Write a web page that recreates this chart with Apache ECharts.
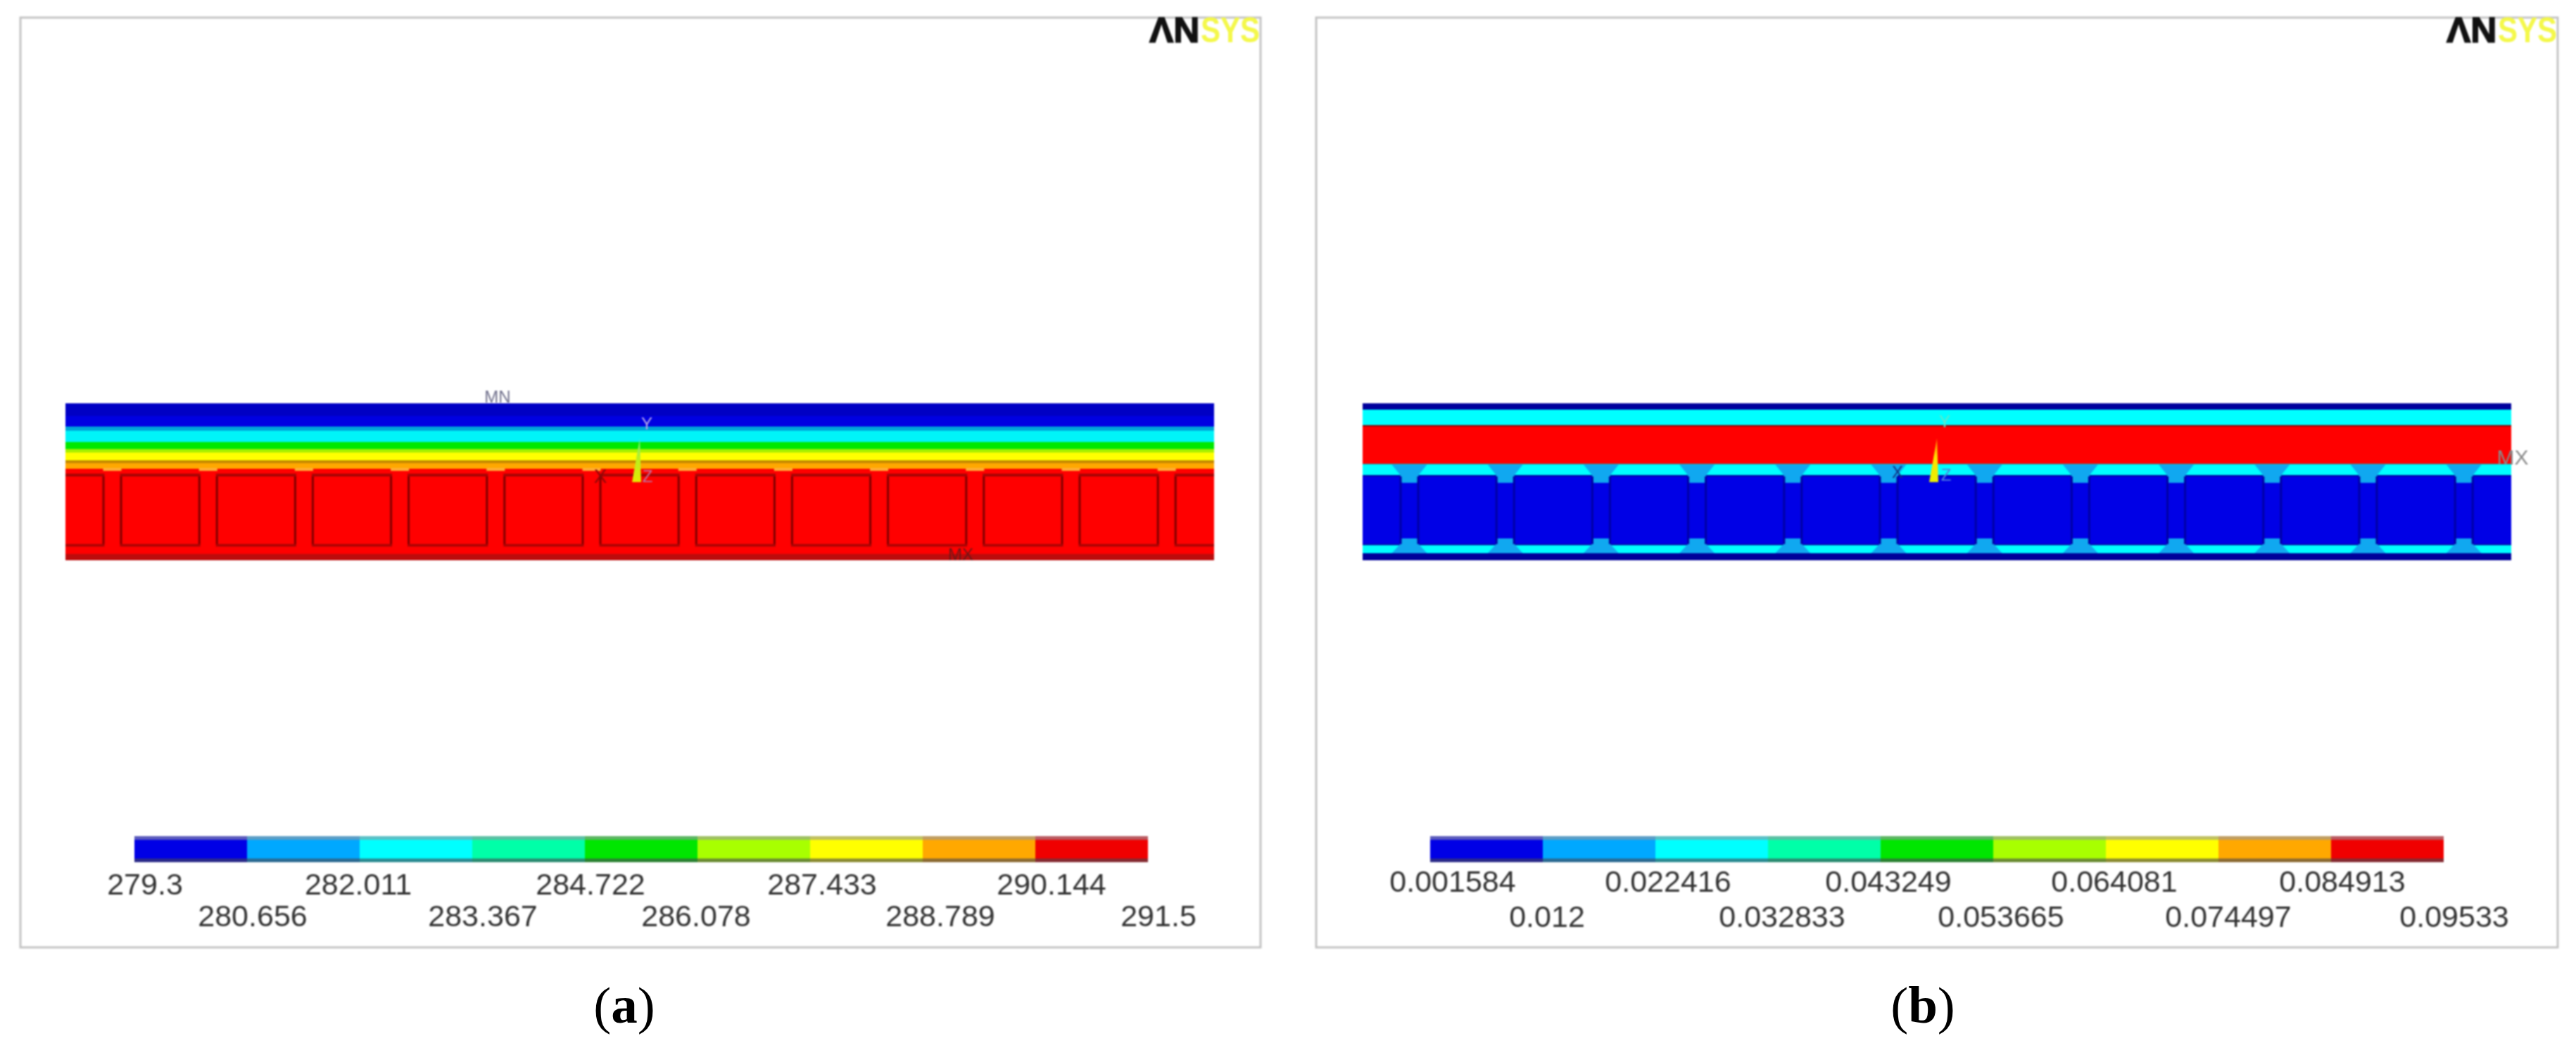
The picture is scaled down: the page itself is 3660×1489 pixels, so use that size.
<!DOCTYPE html>
<html>
<head>
<meta charset="utf-8">
<style>html,body{margin:0;padding:0;background:#fff}#c{width:3660px;height:1489px}#c canvas:first-of-type{filter:blur(1.3px)}</style>
<script src="https://cdn.jsdelivr.net/npm/echarts@6/dist/echarts.min.js"></script>
</head>
<body>
<div id="c"></div>
<script>
// ---------- data ----------
const ticksA = ['279.3','280.656','282.011','283.367','284.722','286.078','287.433','288.789','290.144','291.5'];
const ticksB = ['0.001584','0.012','0.022416','0.032833','0.043249','0.053665','0.064081','0.074497','0.084913','0.09533'];
const contourLevels = [0,1,2,3,4,5,6,7,8];                 // nine contour classes on the bar
const webCentres = [66.5,202.7,338.9,475.1,611.3,747.5,883.7,1019.9,1156.1,1292.3,1428.5,1564.7]; // model x of each web
const sectionLength = 1632;
const sectionDepth = 223;
const cavityTop = 104, cavityBottom = 200;
// temperature panel: layer depth limits + layer tone
const layerDepthsA = [0,18,33,39,55,65,70,81,85,93,214,223];
const layerToneA   = ['#0000c4','#0000e2','#00a4d8','#00f4f8','#00e800','#a8f000','#ffff00','#c48800','#ffa800','#ff0000','#bc0c0c'];
// heat-flux panel: layer depth limits + layer tone
const layerDepthsB = [0,9,31,33,86,87,102,104,200,213,223];
const layerToneB   = ['#00009c','#00ffff','#900000','#ff0000','#00c0c8','#00ffff','#0000a0','#0000e6','#00ffff','#00009a'];

// ---------- style & layout ----------
const barColours = ['#0000e6','#00a8ff','#00ffff','#00ffa8','#00e600','#a8ff00','#ffff00','#ffa800','#f00000'];
const nudgeA = [15,8,-2,15,8,-2,17,25,23,15];
const nudgeB = [32,6,18,20,11,11,12,14,16,15];
const rowYA = [1259,1304], rowYB = [1255,1305];
const webHalf = 11;
const FONT = '"Liberation Sans",Arial,sans-serif';

function rectSeries(g, rows, tones, z){
  return {type:'custom',xAxisIndex:g,yAxisIndex:g,silent:true,animation:false,z:z,clip:false,
    data:rows,
    renderItem:function(p,api){
      const a=api.coord([api.value(0),api.value(1)]), b=api.coord([api.value(2),api.value(3)]);
      return {type:'rect',shape:{x:a[0],y:a[1],width:b[0]-a[0],height:b[1]-a[1]},
        style:{fill:tones[p.dataIndex%tones.length]}};
    }};
}
function polySeries(g, polys, tone, z){
  return {type:'custom',xAxisIndex:g,yAxisIndex:g,silent:true,animation:false,z:z,clip:false,
    data:polys.map((_,i)=>[i,0]),
    renderItem:function(p,api){
      const pts=polys[p.dataIndex].map(q=>api.coord(q));
      return {type:'polygon',shape:{points:pts},style:{fill:tone}};
    }};
}
function layerRows(depths){
  const r=[];for(let i=0;i<depths.length-1;i++)r.push([0,depths[i],sectionLength,depths[i+1]]);return r;
}
function cavityRows(d0,d1){
  const r=[];let x=0;
  webCentres.forEach(c=>{r.push([x,d0,c-webHalf,d1]);x=c+webHalf;});
  r.push([x,d0,sectionLength,d1]);return r;
}
function webLineRows(d0,d1,w){
  const r=[];
  webCentres.forEach(c=>{r.push([c-webHalf-w,d0,c-webHalf,d1]);r.push([c+webHalf,d0,c+webHalf+w,d1]);});
  return r;
}
function triad(g){
  return {type:'custom',xAxisIndex:g,yAxisIndex:g,silent:true,animation:false,z:30,clip:false,
    data:[[0,0]],
    renderItem:function(p,api){
      const pts=[[805,112],[818,112],[816,50]].map(q=>api.coord(q));
      return {type:'polygon',shape:{points:pts},style:{fill:new echarts.graphic.LinearGradient(0,1,0,0,
        g===0?[{offset:0,color:'#e4ea00'},{offset:.55,color:'#b8f020'},{offset:1,color:'#70e8a0'}]
             :[{offset:0,color:'#e8f000'},{offset:.6,color:'#ffe000'},{offset:1,color:'#ff9000'}])}};
    }};
}
function barSeries(g){
  const rows=contourLevels.map(i=>[i,0,i+1,1]);
  return [rectSeries(g,rows,barColours,5),
    rectSeries(g,contourLevels.map(i=>[i,0,i+1,.14]),['rgba(150,150,160,.6)'],6),
    rectSeries(g,contourLevels.map(i=>[i,.86,i+1,1]),['rgba(70,70,80,.62)'],6)];
}
function tickSeries(g,ticks,nudge,rows){
  return {type:'custom',xAxisIndex:g,yAxisIndex:g,silent:true,animation:false,z:8,clip:false,
    data:ticks.map((_,i)=>[i,0]),
    renderItem:function(p,api){
      const i=p.dataIndex, a=api.coord([api.value(0),0]);
      return {type:'text',style:{text:ticks[i],x:a[0]+nudge[i],y:rows[i%2],align:'center',verticalAlign:'middle',
        font:'43px '+FONT,fill:'#333333'}};
    }};
}
function txt(t,x,y,size,fill,extra){
  return Object.assign({type:'text',z:100,silent:true,
    style:{text:t,x:x,y:y,align:'center',verticalAlign:'middle',font:size+'px '+FONT,fill:fill}},extra||{});
}
function logo(dx){
  return [
    {type:'text',z:100,silent:true,x:1633+dx,y:46,scaleX:1.03,style:{text:'ΛN',x:0,y:0,align:'left',verticalAlign:'middle',font:'bold 50px '+FONT,fill:'#111',stroke:'#111',lineWidth:1.5}},
    {type:'text',z:100,silent:true,x:1706+dx,y:46,scaleX:0.84,style:{text:'SYS',x:0,y:0,align:'left',verticalAlign:'middle',font:'bold 50px '+FONT,fill:'#f4f84a'}}
  ];
}
function caption(letter,x){
  return {type:'text',z:100,zlevel:1,silent:true,style:{text:'{n|(}{b|'+letter+'}{n|)}',x:x,y:1434,align:'center',verticalAlign:'middle',
    rich:{n:{font:'75px "Liberation Serif",serif',fill:'#000'},b:{font:'bold 75px "Liberation Serif",serif',fill:'#000'}}}};
}
function frame(x,w){
  return {type:'rect',z:1,silent:true,shape:{x:x,y:25,width:w,height:1321},style:{fill:'none',stroke:'#c4c4c4',lineWidth:3}};
}

const series=[
  // --- panel a ---
  rectSeries(0,layerRows(layerDepthsA),layerToneA,2),
  rectSeries(0,webCentres.map(c=>[c-13,92,c+13,96]),['#ffb038'],3),
  rectSeries(0,cavityRows(100,cavityTop),['#a80404'],3),
  rectSeries(0,cavityRows(cavityBottom,203.5),['#a80404'],3),
  rectSeries(0,webLineRows(cavityTop,cavityBottom,3),['#800000'],3),
  triad(0),
  // --- panel b ---
  rectSeries(1,layerRows(layerDepthsB),layerToneB,2),
  rectSeries(1,cavityRows(cavityBottom,201.5),['#000096'],3),
  polySeries(1,webCentres.map(c=>[[c-25,87],[c+25,87],[c+13,102],[c+11,113],[c-11,113],[c-13,102]]),'#10a8f0',4),
  polySeries(1,webCentres.map(c=>[[c-11,192],[c+11,192],[c+13,200],[c+25,213],[c-25,213],[c-13,200]]),'#10a8f0',4),
  rectSeries(1,webLineRows(cavityTop,cavityBottom,3),['#0000a4'],5),
  triad(1),
  // --- colour bars ---
  ...barSeries(2),...barSeries(3),
  tickSeries(2,ticksA,nudgeA,rowYA),
  tickSeries(3,ticksB,nudgeB,rowYB)
];

const grids=[
  {left:93,top:573,width:1632,height:223},
  {left:1936,top:573,width:1632,height:223},
  {left:191,top:1188,width:1440,height:37},
  {left:2032,top:1188,width:1440,height:37}
];
const chart=echarts.init(document.getElementById('c'),null,{renderer:'canvas',width:3660,height:1489});
chart.setOption({
  backgroundColor:'#ffffff',animation:false,
  grid:grids,
  xAxis:grids.map((_,i)=>({gridIndex:i,type:'value',show:false,min:0,max:i<2?sectionLength:contourLevels.length})),
  yAxis:grids.map((_,i)=>({gridIndex:i,type:'value',show:false,inverse:true,min:0,max:i<2?sectionDepth:1})),
  series:series,
  graphic:{elements:[
    frame(29,1762),frame(1870,1764),
    ...logo(0),...logo(1843),
    txt('MN',707,565,24,'#70708c'),
    txt('MX',1365,789,24,'#6a1818'),
    txt('Y',919,603,24,'#b8a8e8'),
    txt('X',853,678,28,'#8c0808'),
    txt('Z',920,678,24,'#c070a0'),
    txt('Y',2763,600,24,'#60e8c8'),
    txt('X',2696,672,24,'#103080'),
    txt('Z',2765,676,24,'#5080e0'),
    txt('MX',3570,652,30,'#8a8a8a'),
    caption('a',887),caption('b',2732)
  ]}
});
</script>
</body>
</html>
